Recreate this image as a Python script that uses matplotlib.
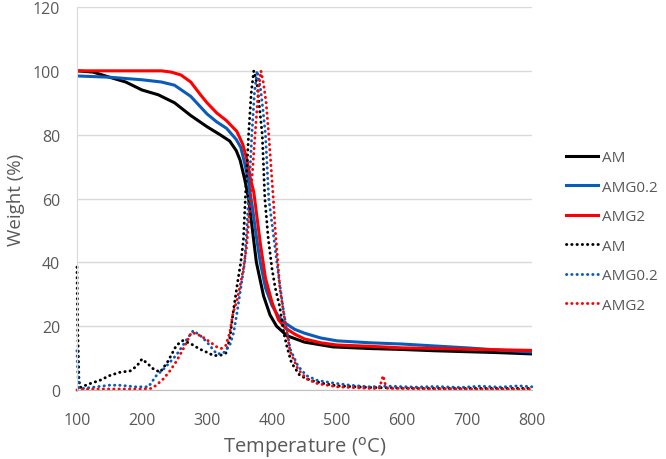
import matplotlib.pyplot as plt

# TGA curves (solid)
t_am = [100, 125, 150, 175, 200, 225, 250, 275, 300, 320, 335, 345, 351, 358, 364, 370, 376, 387, 397, 407, 423, 450, 494, 550, 600, 650, 700, 750, 800]
w_am = [100, 99.6, 98, 96.5, 94, 92.5, 90, 86, 82.5, 80, 78, 75, 72, 66, 60, 50, 40, 29.5, 23.5, 20, 17, 15, 13.5, 13, 12.7, 12.3, 12, 11.7, 11.3]

t_amg02 = [100, 150, 200, 230, 250, 275, 300, 315, 330, 345, 352, 358, 364, 370, 376, 382, 390, 400, 410, 420, 435, 450, 475, 500, 550, 600, 650, 700, 750, 800]
w_amg02 = [98.4, 98, 97.2, 96.5, 95.5, 92, 86.5, 84, 82, 78.5, 76, 71, 65, 57, 48, 40, 32, 26.5, 23, 21, 19, 17.8, 16.3, 15.4, 14.8, 14.4, 13.8, 13.2, 12.5, 11.9]

t_amg2 = [100, 150, 200, 230, 245, 260, 275, 290, 300, 315, 330, 346, 355, 361, 367, 372, 377, 382, 390, 400, 410, 420, 435, 450, 475, 500, 550, 570, 600, 650, 700, 750, 800]
w_amg2 = [100, 100, 100, 100, 99.6, 98.7, 96.5, 92.5, 90, 86.8, 84.4, 81, 77, 72.5, 66, 62, 54, 46, 35, 27.5, 22, 19.5, 17.5, 16, 14.8, 14.1, 13.7, 13.5, 13.2, 13, 12.8, 12.6, 12.4]

# DTG curves (dotted)
td_am = [100, 101, 103, 105, 120, 135, 150, 165, 182, 192, 200, 209, 218, 228, 240, 253, 263, 275, 289, 300, 310, 320, 329, 335, 340, 348, 352, 356, 359, 364, 368, 372, 377, 381, 385, 389, 394, 400, 405, 412, 418, 423, 430, 443, 460, 480, 500, 550, 600, 650, 700, 750, 800]
d_am = [38.5, 20, 3, 0.8, 2, 3, 4.5, 5.5, 6, 7.5, 9.7, 8.2, 6.5, 5.6, 9, 14, 15.5, 14.5, 12.8, 11.8, 10.8, 10.8, 11.6, 16, 24, 35, 40, 47, 60, 80, 93, 100, 96, 88, 80, 60, 48, 38, 32, 26, 18, 13.6, 8.5, 4.5, 3, 2, 1.3, 0.8, 0.6, 0.5, 0.5, 0.5, 0.5]

td_amg02 = [100, 101, 103, 110, 130, 150, 165, 190, 210, 222, 233, 243, 253, 263, 271, 279, 290, 300, 308, 315, 325, 335, 341, 346, 352, 358, 361, 364, 369, 373, 377, 382, 386, 390, 395, 402, 410, 418, 428, 440, 453, 470, 494, 520, 550, 580, 620, 650, 690, 720, 750, 780, 800]
d_amg02 = [12.3, 6, 0.5, 0.5, 1, 1.5, 1.5, 1, 1, 4.5, 6.5, 8.7, 11, 14, 16.5, 18.6, 17, 15, 13, 11.3, 11.5, 14, 18, 24, 32, 40, 50, 60, 80, 93, 100, 95, 88, 80, 60, 49, 36, 24.4, 12.8, 7.5, 4.5, 3, 2.2, 1.5, 1.0, 1.2, 0.9, 1.1, 0.8, 1.2, 0.9, 1.3, 1.0]

td_amg2 = [100, 120, 150, 180, 200, 215, 222, 233, 243, 253, 263, 270, 276, 285, 294, 305, 315, 322, 329, 335, 340, 346, 351, 356, 361, 367, 374, 379, 383, 387, 391, 395, 402, 405, 409, 412, 418, 428, 440, 453, 470, 500, 550, 565, 568, 571, 574, 578, 600, 700, 800]
d_amg2 = [0, 0.3, 0.3, 0.3, 0.3, 0.5, 1.5, 3.5, 6, 9, 12.7, 15.5, 18, 17.5, 16.5, 15, 13.5, 13, 14, 18, 24, 28, 32.7, 38, 45, 60, 80, 94, 100, 96, 90, 80, 60, 50, 40, 32, 24, 12, 6.5, 3.5, 2, 1, 0.5, 0.5, 2.5, 4.5, 2, 0.5, 0.5, 0.3, 0.3]

black = '#000000'
blue = '#0B5CB8'
red = '#FF0000'
grey = '#595959'

plt.rcParams['font.family'] = ['Open Sans', 'DejaVu Sans']

fig = plt.figure(figsize=(6.66, 4.60), dpi=100)
ax = fig.add_axes([0.1156, 0.15, 0.6832, 0.8326])

dot = (0, (0.1, 1.7))
ax.plot(t_am, w_am, color=black, lw=2.2, label='AM')
ax.plot(t_amg02, w_amg02, color=blue, lw=2.2, label='AMG0.2')
ax.plot(t_amg2, w_amg2, color=red, lw=2.2, label='AMG2')
ax.plot(td_am, d_am, color=black, lw=2.1, ls=dot, dash_capstyle='round', label='AM', clip_on=False)
ax.plot(td_amg02, d_amg02, color=blue, lw=2.1, ls=dot, dash_capstyle='round', label='AMG0.2', clip_on=False)
ax.plot(td_amg2, d_amg2, color=red, lw=2.1, ls=dot, dash_capstyle='round', label='AMG2', clip_on=False)

ax.set_xlim(100, 800)
ax.set_ylim(0, 120)
ax.set_xticks(range(100, 801, 100))
ax.set_yticks(range(0, 121, 20))
ax.grid(axis='y', color='#D9D9D9', lw=1)
ax.set_axisbelow(True)
for s in ['top', 'right']:
    ax.spines[s].set_visible(False)
ax.spines['left'].set_color('#D9D9D9')
ax.spines['bottom'].set_color('#BFBFBF')
ax.tick_params(length=0, labelsize=11.5, labelcolor=grey)
ax.tick_params(axis='x', pad=16)
ax.tick_params(axis='y', pad=12)

ax.set_xlabel('Temperature ($^{\\rm o}$C)', fontsize=14.5, color=grey, labelpad=4)
ax.set_ylabel('Weight (%)', fontsize=13.5, color=grey, labelpad=6)

fig.legend(loc='center left', bbox_to_anchor=(0.85, 0.4946), frameon=False,
           fontsize=11, labelcolor=grey, handlelength=2.1, handletextpad=0.25,
           labelspacing=0.95, borderpad=0, borderaxespad=0)

fig.savefig('out.png', dpi=100)
